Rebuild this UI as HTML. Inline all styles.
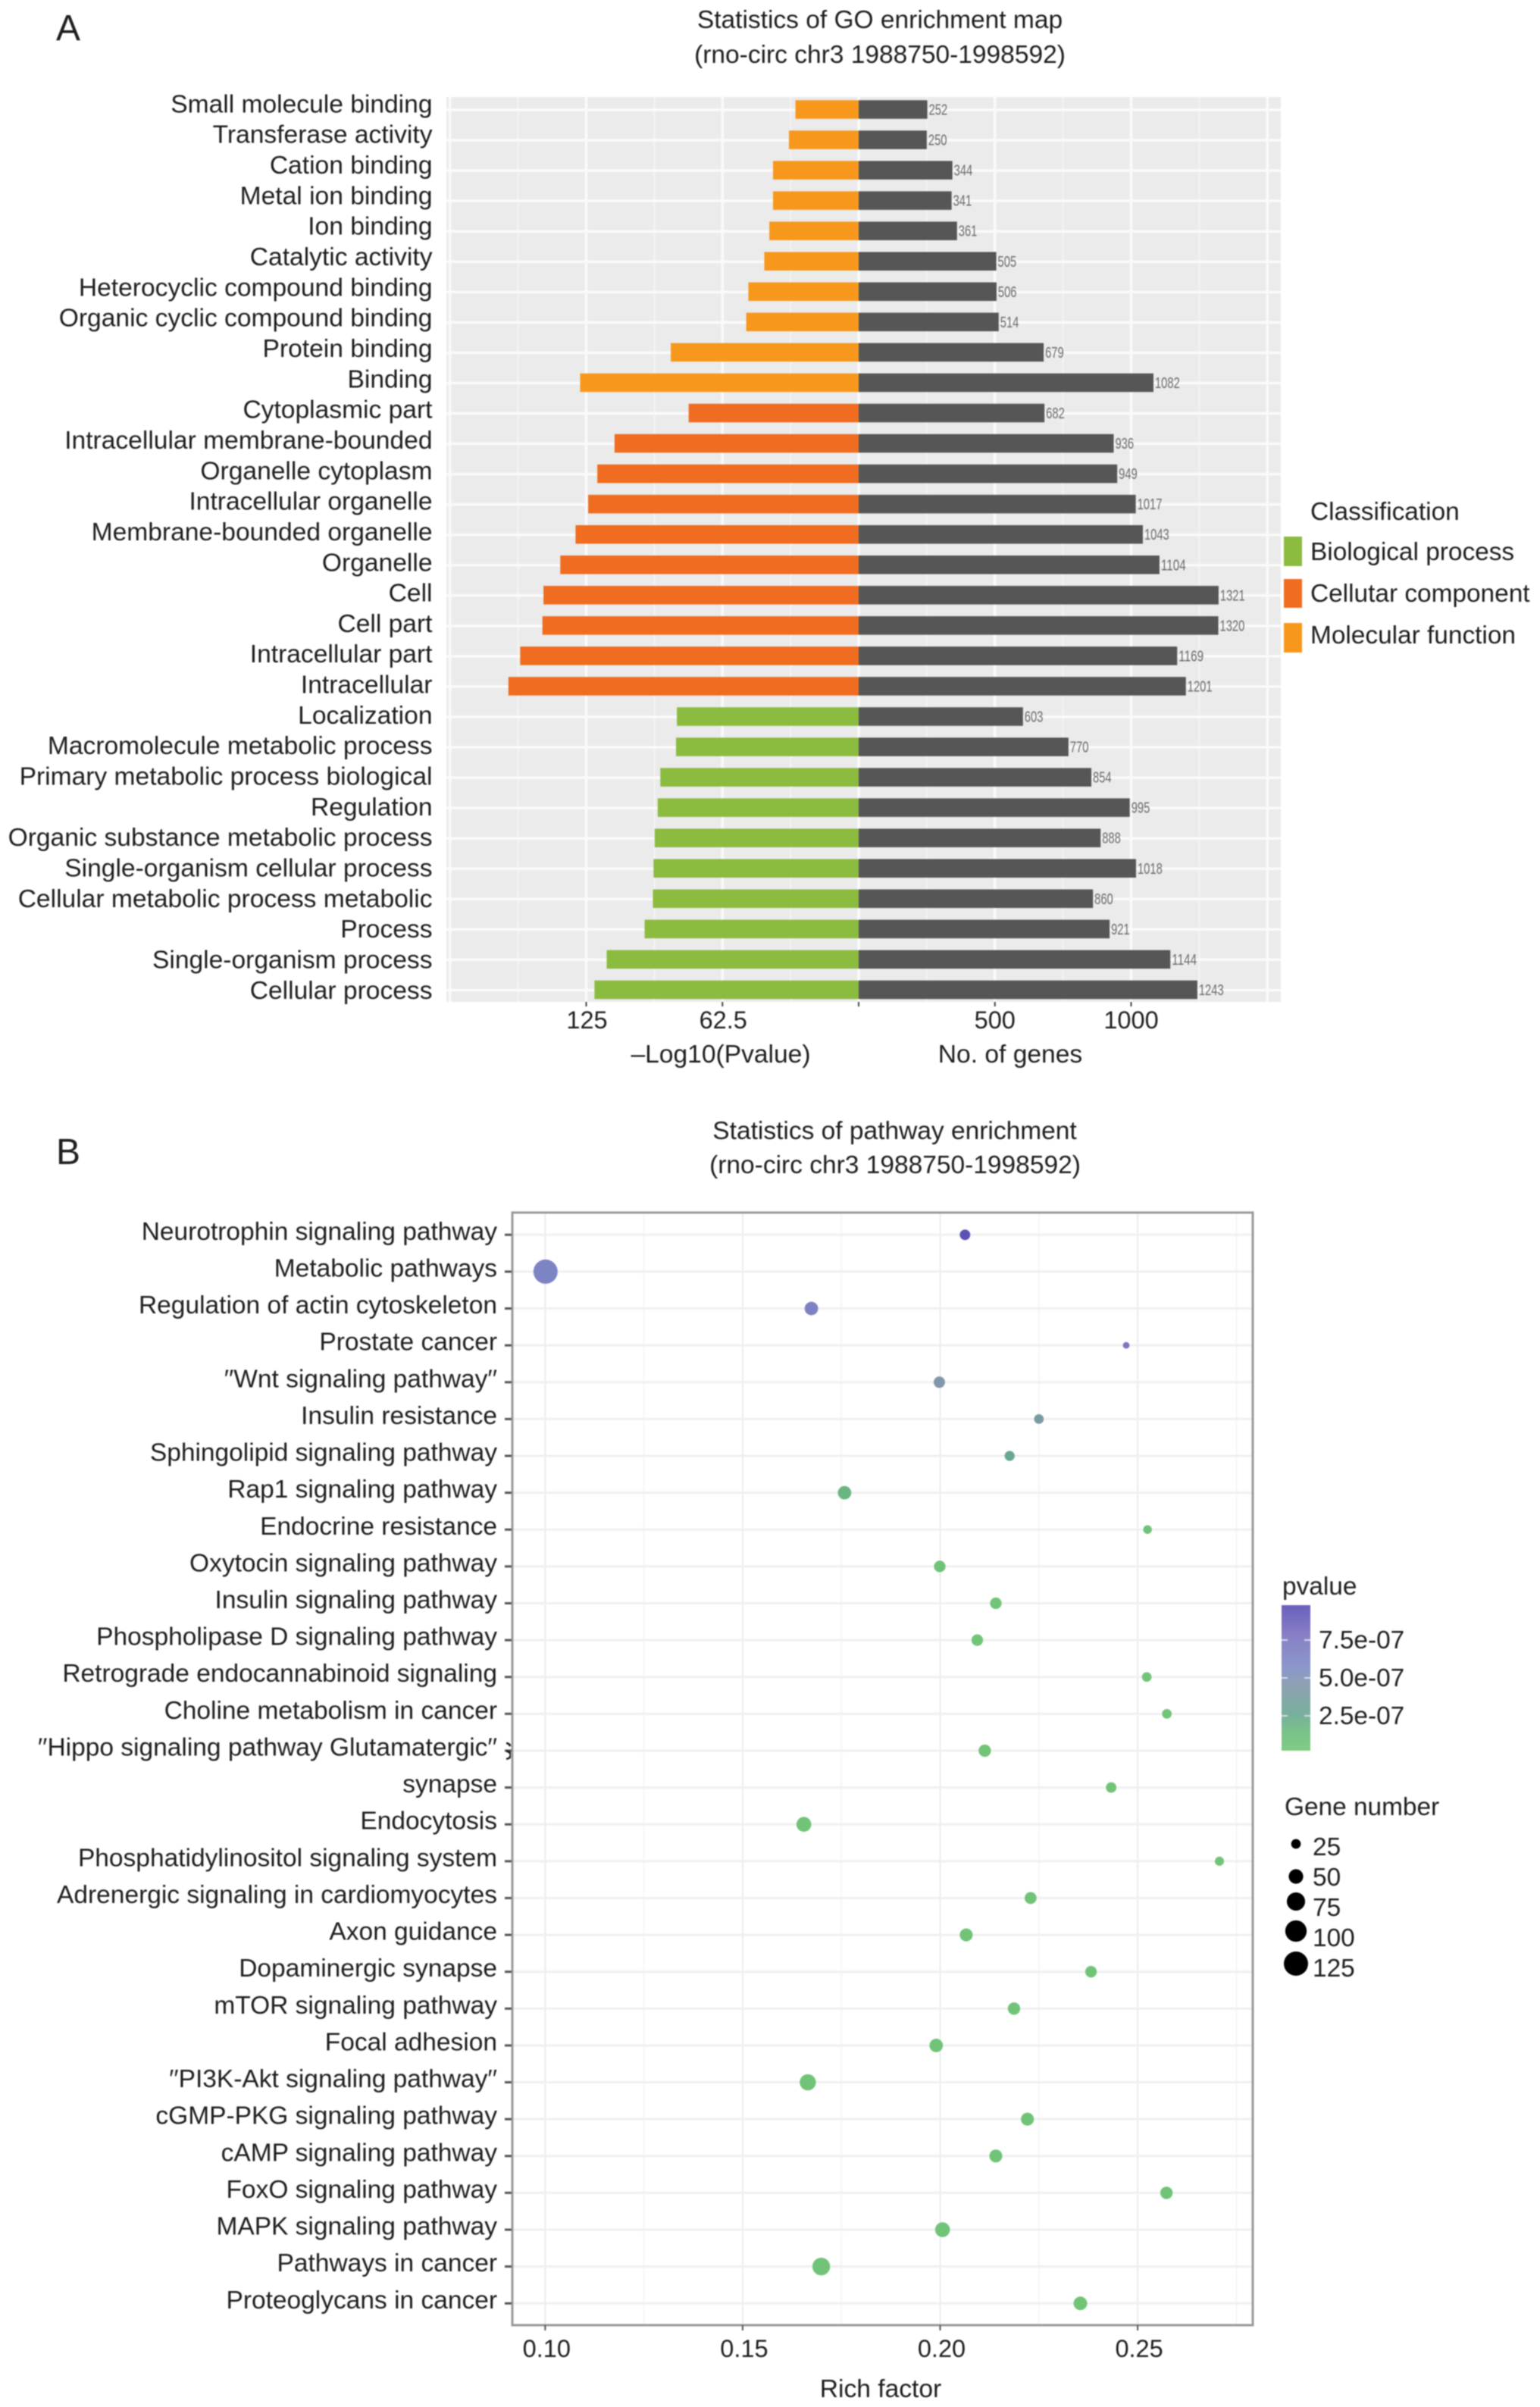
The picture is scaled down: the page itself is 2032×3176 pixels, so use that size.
<!DOCTYPE html>
<html lang="en">
<head>
<meta charset="utf-8">
<title>GO and pathway enrichment</title>
<style>
html,body{margin:0;padding:0;background:#fff;}
body{width:2032px;height:3176px;overflow:hidden;}
svg{display:block;filter:blur(0.9px);}
text{font-family:"Liberation Sans",Arial,sans-serif;fill:#1e1e1e;}
.lab{font-size:33.6px;}
.blab{font-size:33.5px;}
.tick{font-size:32.5px;}
.leg{font-size:33.4px;}
.ttl{font-size:33.5px;text-anchor:middle;}
.panel{font-size:48px;}
</style>
</head>
<body>
<svg id="fig" xmlns="http://www.w3.org/2000/svg" width="2032" height="3176" viewBox="0 0 2032 3176">
  <defs>
    <linearGradient id="pgrad" x1="0" y1="0" x2="0" y2="1"></linearGradient>
    <clipPath id="hippo-clip"><rect x="668" y="2280" width="6" height="60"></rect></clipPath>
  </defs>
  <text class="panel" x="74" y="53">A</text>
  <text class="panel" x="74" y="1536">B</text>
  <text class="ttl" x="1161" y="37">Statistics of GO enrichment map</text>
  <text class="ttl" x="1161" y="83">(rno-circ chr3 1988750-1998592)</text>
  <text class="ttl" x="1180.5" y="1503">Statistics of pathway enrichment</text>
  <text class="ttl" x="1181" y="1548">(rno-circ chr3 1988750-1998592)</text>

  <rect x="589" y="128" width="1101" height="1194" fill="#ebebeb"></rect>
  <g id="go-grid"></g>
  <g id="go-bars"></g>
  <g id="go-labels"></g>
  <g id="go-axis"></g>
  <text class="lab" x="951" y="1402" text-anchor="middle">–Log10(Pvalue)</text>
  <text class="lab" x="1333" y="1402" text-anchor="middle">No. of genes</text>

  <g>
    <text class="leg" x="1729" y="686">Classification</text>
    <rect x="1694" y="708" width="24" height="39" fill="#8bbb3f"></rect>
    <text class="leg" x="1729" y="739">Biological process</text>
    <rect x="1694" y="764" width="24" height="38" fill="#ef6c21"></rect>
    <text class="leg" x="1729" y="794">Cellutar component</text>
    <rect x="1694" y="822" width="24" height="39" fill="#f7981d"></rect>
    <text class="leg" x="1729" y="849">Molecular function</text>
  </g>

  <g id="path-grid"></g>
  <rect x="676" y="1600" width="977" height="1468" fill="none" stroke="#9a9a9a" stroke-width="3"></rect>
  <g id="path-points"></g>
  <g id="path-labels"></g>
  <g id="path-axis"></g>
  <text class="lab" x="1162" y="3163" text-anchor="middle">Rich factor</text>
  <text class="blab" x="677" y="2322" text-anchor="end" clip-path="url(#hippo-clip)">S</text>

  <g>
    <text class="leg" x="1692" y="2104">pvalue</text>
    <rect x="1691" y="2118" width="38" height="192" fill="url(#pgrad)" opacity="0.9"></rect>
    <g id="p-legend"></g>
  </g>
  <g>
    <text class="leg" x="1695" y="2395">Gene number</text>
    <g id="size-legend"></g>
  </g>
</svg>
<script>
/* ---------- Panel A data ---------- */
const goTerms = ["Small molecule binding","Transferase activity","Cation binding","Metal ion binding","Ion binding","Catalytic activity","Heterocyclic compound binding","Organic cyclic compound binding","Protein binding","Binding","Cytoplasmic part","Intracellular membrane-bounded","Organelle cytoplasm","Intracellular organelle","Membrane-bounded organelle","Organelle","Cell","Cell part","Intracellular part","Intracellular","Localization","Macromolecule metabolic process","Primary metabolic process biological","Regulation","Organic substance metabolic process","Single-organism cellular process","Cellular metabolic process metabolic","Process","Single-organism process","Cellular process"];
const goClasses = ["MF","MF","MF","MF","MF","MF","MF","MF","MF","MF","CC","CC","CC","CC","CC","CC","CC","CC","CC","CC","BP","BP","BP","BP","BP","BP","BP","BP","BP","BP"];
const goPvalues = [29,32,39.3,39.3,41,43.3,50.6,51.6,86.2,127.8,78,112,119.9,124.1,129.9,136.9,144.6,145.1,155.3,160.7,83.4,83.8,91,92.2,93.6,94.1,94.4,98.2,115.6,121.2];
const goGenes = [252,250,344,341,361,505,506,514,679,1082,682,936,949,1017,1043,1104,1321,1320,1169,1201,603,770,854,995,888,1018,860,921,1144,1243];
const pvalMajor = [187.5,125,62.5,0];
const pvalMinor = [156.25,93.75,31.25];
const geneMajor = [500,1000,1500];
const geneMinor = [250,750,1250];
const pvalTicks = [125,62.5,0];
const pvalTickLabels = ["125","62.5",""];
const geneTicks = [500,1000];
const geneTickLabels = ["500","1000"];

/* ---------- Panel B data ---------- */
const pathways = ["Neurotrophin signaling pathway","Metabolic pathways","Regulation of actin cytoskeleton","Prostate cancer","′′Wnt signaling pathway′′","Insulin resistance","Sphingolipid signaling pathway","Rap1 signaling pathway","Endocrine resistance","Oxytocin signaling pathway","Insulin signaling pathway","Phospholipase D signaling pathway","Retrograde endocannabinoid signaling","Choline metabolism in cancer","′′Hippo signaling pathway Glutamatergic′′","synapse","Endocytosis","Phosphatidylinositol signaling system","Adrenergic signaling in cardiomyocytes","Axon guidance","Dopaminergic synapse","mTOR signaling pathway","Focal adhesion","′′PI3K-Akt signaling pathway′′","cGMP-PKG signaling pathway","cAMP signaling pathway","FoxO signaling pathway","MAPK signaling pathway","Pathways in cancer","Proteoglycans in cancer"];
const richFactor = [0.2063,0.1001,0.1674,0.2471,0.1998,0.2250,0.2176,0.1758,0.2525,0.1999,0.2141,0.2094,0.2523,0.2574,0.2113,0.2433,0.1655,0.2707,0.2229,0.2066,0.2382,0.2187,0.1990,0.1665,0.2221,0.2141,0.2573,0.2006,0.1699,0.2355];
const geneNumber = [29,125,44,14,33,25,27,44,21,34,34,34,25,25,38,29,52,23,36,41,34,38,44,61,41,41,38,52,71,45];
const pathPvalues = [9.7e-7,6.2e-7,6.3e-7,7.4e-7,4.5e-7,3.8e-7,2.5e-7,1.8e-7,0.6e-7,0.5e-7,0.3e-7,0.3e-7,0.3e-7,0.3e-7,0.3e-7,0.2e-7,0.2e-7,0.2e-7,0.2e-7,0.2e-7,0.2e-7,0.2e-7,0.2e-7,0.2e-7,0.2e-7,0.2e-7,0.2e-7,0.2e-7,0.2e-7,0.2e-7];
const richMajor = [0.10,0.15,0.20,0.25];
const richMinor = [0.125,0.175,0.225,0.275];
const richTickLabels = ["0.10","0.15","0.20","0.25"];
const pLegendTicks = [7.5e-7,5.0e-7,2.5e-7];
const pLegendLabels = ["7.5e-07","5.0e-07","2.5e-07"];
const sizeLegendValues = [25,50,75,100,125];

/* ---------- Scales ---------- */
const classColor = {MF:"#f7981d",CC:"#ef6c21",BP:"#8bbb3f"};
const xGene = v => 1133 + v * 0.3595;
const xPval = v => 1133 - v * 2.876;
const yGo = i => 145 + i * 40.05;
const yGoLabel = i => 148.3 + i * 40.33;
const xRich = v => 719.3 + (v - 0.10) * 5212;
const yPath = i => 1629.3 + i * 48.62;
const diam = n => 12.7 + 3.12 * (Math.sqrt(n) - 5);
const yPLegend = p => 2314 - p * 2.0e8;
const colorStops = [[0,[114,198,118]],[1.5e-7,[108,186,126]],[2.5e-7,[104,168,144]],[4.5e-7,[130,150,172]],[5.5e-7,[126,140,196]],[7.5e-7,[124,116,192]],[9.8e-7,[90,78,182]]];
function pColor(p){
  for(let k=1;k<colorStops.length;k++){
    if(p<=colorStops[k][0]){
      const a=colorStops[k-1],b=colorStops[k],t=(p-a[0])/(b[0]-a[0]);
      const c=a[1].map((v,j)=>Math.round(v+(b[1][j]-v)*t));
      return "rgb("+c.join(",")+")";
    }
  }
  return "rgb("+colorStops[colorStops.length-1][1].join(",")+")";
}
const NS="http://www.w3.org/2000/svg";
function mk(parent,tag,attrs,txt){
  const el=document.createElementNS(NS,tag);
  for(const k in attrs) el.setAttribute(k,attrs[k]);
  if(txt!==undefined) el.textContent=txt;
  document.getElementById(parent).appendChild(el);
  return el;
}
let el;

/* ---------- Panel A grid ---------- */
pvalMinor.forEach(v=>{
  el=mk("go-grid","line",{x1:xPval(v),x2:xPval(v),y1:128,y2:1322,stroke:"#f3f3f3","stroke-width":2});
  
  
});
geneMinor.forEach(v=>{
  el=mk("go-grid","line",{x1:xGene(v),x2:xGene(v),y1:128,y2:1322,stroke:"#f3f3f3","stroke-width":2});
  
  
});
pvalMajor.forEach(v=>{
  el=mk("go-grid","line",{x1:xPval(v),x2:xPval(v),y1:128,y2:1322,stroke:"#fafafa","stroke-width":3.5});
  
  
});
geneMajor.forEach(v=>{
  el=mk("go-grid","line",{x1:xGene(v),x2:xGene(v),y1:128,y2:1322,stroke:"#fafafa","stroke-width":3.5});
  
  
});
goTerms.forEach((t,i)=>{
  el=mk("go-grid","line",{x1:589,x2:1690,y1:yGo(i),y2:yGo(i),stroke:"#fafafa","stroke-width":3.5});
  
  
});

/* ---------- Panel A bars ---------- */
goTerms.forEach((t,i)=>{
  const yc=yGo(i)-0.5;
  el=mk("go-bars","rect",{x:xPval(goPvalues[i]),y:yc-12.25,width:xPval(0)-xPval(goPvalues[i]),height:24.5,fill:classColor[goClasses[i]]});
  
  
  el=mk("go-bars","rect",{x:xGene(0),y:yc-12.25,width:xGene(goGenes[i])-xGene(0),height:24.5,fill:"#565656"});
  
  
  const s=String(goGenes[i]);
  el=mk("go-bars","text",{x:xGene(goGenes[i])+2,y:yc+7,"font-size":20,textLength:s.length*8.2,lengthAdjust:"spacingAndGlyphs",style:"fill:#6a6a6a"},s);
  
  
  el=mk("go-labels","text",{class:"lab",x:570.5,y:yGoLabel(i),"text-anchor":"end"},t);
  
  
});

/* ---------- Panel A axis ---------- */
pvalTicks.forEach((v,i)=>{
  el=mk("go-axis","line",{x1:xPval(v),x2:xPval(v),y1:1322,y2:1328,stroke:"#444","stroke-width":2});
  
  
  if(pvalTickLabels[i]){
    el=mk("go-axis","text",{class:"tick",x:xPval(v)+1,y:1357,"text-anchor":"middle"},pvalTickLabels[i]);
    
    
  }
});
geneTicks.forEach((v,i)=>{
  el=mk("go-axis","line",{x1:xGene(v),x2:xGene(v),y1:1322,y2:1328,stroke:"#444","stroke-width":2});
  
  
  el=mk("go-axis","text",{class:"tick",x:xGene(v),y:1357,"text-anchor":"middle"},geneTickLabels[i]);
  
  
});

/* ---------- Panel B grid ---------- */
richMinor.forEach(v=>{
  el=mk("path-grid","line",{x1:xRich(v),x2:xRich(v),y1:1600,y2:3068,stroke:"#f6f6f6","stroke-width":2});
  
  
});
richMajor.forEach(v=>{
  el=mk("path-grid","line",{x1:xRich(v),x2:xRich(v),y1:1600,y2:3068,stroke:"#ececec","stroke-width":2});
  
  
});
pathways.forEach((t,i)=>{
  el=mk("path-grid","line",{x1:676,x2:1653,y1:yPath(i),y2:yPath(i),stroke:"#f0f0f0","stroke-width":3});
  
  
});

/* ---------- Panel B points ---------- */
pathways.forEach((t,i)=>{
  el=mk("path-points","circle",{cx:xRich(richFactor[i]),cy:yPath(i),r:diam(geneNumber[i])/2,fill:pColor(pathPvalues[i])});
  
  
  el=mk("path-labels","text",{class:"blab",x:656,y:yPath(i)+6.5,"text-anchor":"end"},t);
  
  
  el=mk("path-labels","line",{x1:666,x2:675,y1:yPath(i),y2:yPath(i),stroke:"#555","stroke-width":3});
  
  
});

/* ---------- Panel B axis ---------- */
richMajor.forEach((v,i)=>{
  el=mk("path-axis","line",{x1:xRich(v),x2:xRich(v),y1:3068,y2:3075,stroke:"#555","stroke-width":2});
  
  
  el=mk("path-axis","text",{class:"tick",x:xRich(v)+2,y:3110,"text-anchor":"middle"},richTickLabels[i]);
  
  
});

/* ---------- Legends ---------- */
const grad=document.getElementById("pgrad");
const gradTop=9.6e-7, gradBottom=0.2e-7;
colorStops.slice().reverse().forEach(st=>{
  const off=Math.min(1,Math.max(0,(gradTop-st[0])/(gradTop-gradBottom)));
  const s=document.createElementNS(NS,"stop");
  s.setAttribute("offset",off);
  s.setAttribute("stop-color","rgb("+st[1].join(",")+")");
  grad.appendChild(s);
});
pLegendTicks.forEach((p,i)=>{
  const y=yPLegend(p);
  el=mk("p-legend","line",{x1:1691,x2:1699,y1:y,y2:y,stroke:"#d8d8e8","stroke-width":2});
  
  
  el=mk("p-legend","line",{x1:1721,x2:1729,y1:y,y2:y,stroke:"#d8d8e8","stroke-width":2});
  
  
  el=mk("p-legend","text",{class:"leg",x:1740,y:y+11},pLegendLabels[i]);
  
  
});
sizeLegendValues.forEach((n,i)=>{
  const d=diam(n);
  el=mk("size-legend","circle",{cx:1710,cy:2433+[0,43,76,115,158][i],r:d/2,fill:"#000"});
  
  
  el=mk("size-legend","text",{class:"leg",x:1732,y:2448+i*40},String(n));
  
  
});
</script>
</body>
</html>
